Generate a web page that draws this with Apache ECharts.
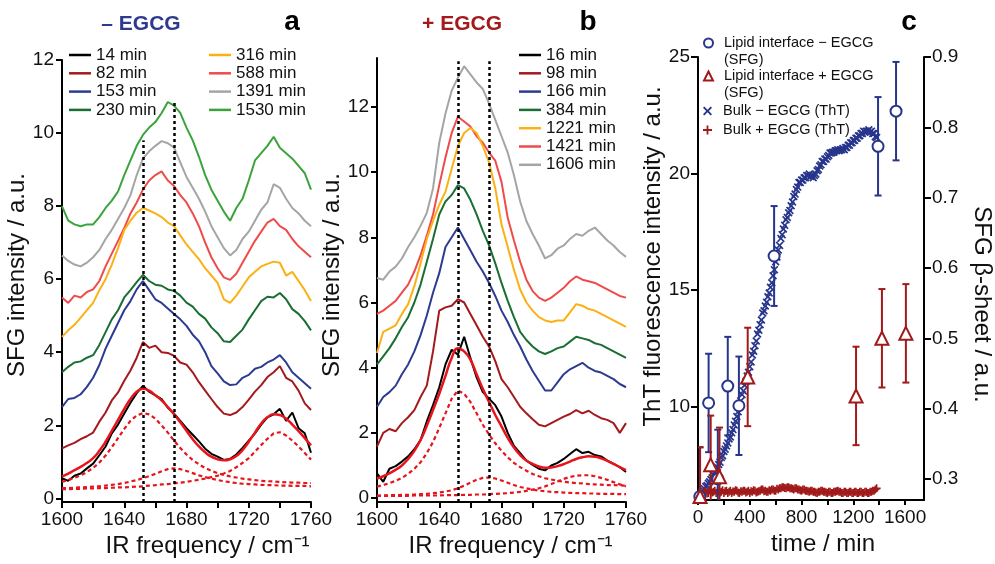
<!DOCTYPE html>
<html><head><meta charset="utf-8">
<script src="https://cdn.jsdelivr.net/npm/echarts@6/dist/echarts.min.js"></script>
<style>html,body{margin:0;padding:0;background:#fff}#c{width:995px;height:564px}</style>
</head><body><div id="c"></div>
<script>
// ---------- DATA ----------
const freq = [1600,1604,1608,1612,1616,1620,1624,1628,1632,1636,1640,1644,1648,1652,1656,1660,1664,1668,1672,1676,1680,1684,1688,1692,1696,1700,1704,1708,1712,1716,1720,1724,1728,1732,1736,1740,1744,1748,1752,1756,1760];
const freqTicks = [1600,1620,1640,1660,1680,1700,1720,1740,1760];
const freqLabels = [1600,1640,1680,1720,1760];
const sfgTicks = [0,2,4,6,8,10,12];

// Panel a (- EGCG)
const namesA = ['14 min','82 min','153 min','230 min','316 min','588 min','1391 min','1530 min'];
const a14 = [0.55,0.48,0.62,0.68,0.82,0.95,1.18,1.42,1.78,2.02,2.32,2.62,2.88,3.08,2.92,2.82,2.72,2.48,2.32,2.12,1.92,1.74,1.56,1.36,1.22,1.14,1.05,1.08,1.20,1.38,1.58,1.78,2.02,2.22,2.30,2.45,2.12,2.35,1.92,1.78,1.25];
const a82 = [1.37,1.45,1.52,1.62,1.70,1.80,2.10,2.35,2.68,2.90,3.22,3.50,3.85,4.28,4.12,4.18,4.00,3.98,3.90,3.72,3.66,3.45,3.18,2.95,2.72,2.50,2.32,2.28,2.35,2.50,2.70,2.92,3.10,3.32,3.45,3.62,3.30,3.20,2.95,2.60,2.42];
const a153 = [2.50,2.72,2.75,2.85,3.05,3.30,3.65,4.10,4.45,4.80,5.15,5.40,5.72,5.95,5.70,5.45,5.35,5.20,5.05,4.90,4.72,4.48,4.30,4.00,3.62,3.42,3.20,3.10,3.12,3.30,3.38,3.55,3.60,3.72,3.80,3.92,3.72,3.45,3.30,3.15,3.00];
const a230 = [3.45,3.60,3.72,3.75,3.85,3.92,4.20,4.55,4.90,5.15,5.50,5.70,5.92,6.12,5.95,5.85,5.82,5.72,5.68,5.55,5.36,5.25,5.05,4.92,4.68,4.52,4.30,4.28,4.45,4.62,4.90,5.15,5.40,5.52,5.50,5.62,5.45,5.18,5.05,4.85,4.60];
const a316 = [4.42,4.60,4.75,4.95,5.15,5.35,5.70,6.00,6.40,6.85,7.35,7.60,7.82,7.95,7.88,7.80,7.70,7.55,7.45,7.20,6.95,6.75,6.55,6.30,6.10,5.90,5.45,5.35,5.55,5.80,6.05,6.20,6.35,6.42,6.48,6.45,6.10,6.20,5.95,5.70,5.40];
const a588 = [5.50,5.35,5.55,5.50,5.65,5.72,5.95,6.35,6.70,7.05,7.40,7.80,8.10,8.45,8.70,8.85,8.95,8.70,8.55,8.30,8.10,7.80,7.45,7.00,6.60,6.30,6.05,5.98,6.15,6.45,6.75,7.05,7.30,7.55,7.65,7.45,7.35,7.10,6.90,6.75,6.60];
const a1391 = [6.65,6.50,6.40,6.35,6.45,6.60,6.80,7.10,7.35,7.65,7.95,8.30,8.85,9.30,9.50,9.65,9.78,9.72,9.60,9.20,8.80,8.50,8.20,7.85,7.45,7.15,6.85,6.65,6.80,7.10,7.30,7.60,7.90,8.10,8.60,8.50,8.20,7.95,7.80,7.60,7.45];
const a1530 = [8.00,7.60,7.50,7.45,7.50,7.50,7.70,7.95,8.15,8.40,8.85,9.25,9.65,9.95,10.15,10.30,10.55,10.85,10.75,10.55,10.15,9.80,9.35,8.85,8.45,8.15,7.85,7.60,7.95,8.20,8.70,9.25,9.45,9.65,9.90,9.60,9.45,9.30,9.10,8.90,8.45];
const fitA = [0.60,0.68,0.77,0.86,0.97,1.10,1.30,1.55,1.85,2.15,2.45,2.72,2.92,3.00,2.95,2.82,2.68,2.50,2.30,2.08,1.85,1.62,1.42,1.26,1.14,1.07,1.04,1.07,1.16,1.32,1.55,1.80,2.05,2.22,2.30,2.28,2.18,2.02,1.84,1.65,1.45];
const compA1 = [0.45,0.50,0.56,0.63,0.72,0.83,0.98,1.17,1.40,1.65,1.90,2.12,2.27,2.33,2.30,2.18,2.00,1.80,1.58,1.38,1.20,1.05,0.93,0.83,0.75,0.69,0.64,0.60,0.57,0.54,0.52,0.50,0.48,0.47,0.46,0.45,0.44,0.43,0.43,0.42,0.42];
const compA2 = [0.28,0.28,0.29,0.30,0.31,0.32,0.33,0.35,0.37,0.39,0.42,0.46,0.50,0.55,0.61,0.67,0.74,0.80,0.82,0.80,0.75,0.69,0.63,0.58,0.54,0.50,0.47,0.44,0.42,0.40,0.39,0.38,0.37,0.36,0.36,0.35,0.35,0.34,0.34,0.34,0.33];
const compA3 = [0.25,0.25,0.26,0.26,0.27,0.27,0.28,0.28,0.29,0.30,0.30,0.31,0.32,0.33,0.35,0.36,0.38,0.39,0.41,0.43,0.45,0.48,0.51,0.54,0.58,0.62,0.68,0.75,0.85,0.97,1.10,1.28,1.46,1.63,1.78,1.81,1.72,1.58,1.42,1.24,1.06];
const guidesA = [[1652,-0.1,9.8],[1672,-0.1,10.85]];

// Panel b (+ EGCG)
const namesB = ['16 min','98 min','166 min','384 min','1221 min','1421 min','1606 min'];
const b16 = [0.76,0.50,0.90,0.98,1.12,1.28,1.50,1.78,2.35,2.85,3.40,4.10,4.55,4.40,4.95,4.30,3.70,3.25,3.05,2.85,2.50,2.00,1.60,1.38,1.15,1.02,0.90,0.85,1.00,1.08,1.20,1.35,1.50,1.38,1.42,1.32,1.28,1.15,1.05,0.95,0.80];
const b98 = [1.58,2.00,2.12,2.05,2.30,2.48,2.70,3.10,3.45,4.50,5.75,5.85,5.90,6.10,6.00,5.65,5.30,4.95,4.65,4.20,3.65,3.40,3.10,2.80,2.60,2.42,2.25,2.20,2.30,2.40,2.50,2.58,2.70,2.60,2.68,2.55,2.45,2.40,2.30,2.00,2.30];
const b166 = [2.80,3.10,3.25,3.45,3.80,4.10,4.50,5.00,5.60,6.30,6.90,7.70,8.00,8.30,7.95,7.60,7.25,6.95,6.60,6.20,5.75,5.40,5.00,4.65,4.25,3.90,3.60,3.30,3.30,3.55,3.80,3.95,4.05,4.15,4.00,3.90,3.85,3.75,3.65,3.50,3.40];
const b384 = [4.10,4.35,4.60,4.90,5.25,5.55,6.00,6.55,7.25,7.95,8.70,9.10,9.30,9.60,9.50,9.15,8.70,8.20,7.75,7.20,6.60,6.05,5.55,5.10,4.85,4.65,4.50,4.42,4.50,4.60,4.65,4.80,4.95,4.90,4.85,4.75,4.70,4.60,4.50,4.40,4.30];
const b1221 = [4.45,5.10,5.20,5.30,5.65,5.95,6.50,7.20,7.95,8.50,9.00,9.40,10.10,10.80,11.20,11.35,11.20,10.80,10.30,9.50,8.40,7.70,7.00,6.40,6.00,5.75,5.55,5.45,5.40,5.45,5.45,5.70,5.95,5.90,5.80,5.75,5.65,5.55,5.45,5.35,5.25];
const b1421 = [5.65,5.75,5.90,6.05,6.30,6.55,6.95,7.45,8.05,8.70,9.60,10.45,11.20,11.70,11.55,11.40,11.10,10.90,10.60,10.35,9.70,8.60,7.90,7.25,6.70,6.35,6.15,6.05,6.15,6.30,6.45,6.65,6.80,6.70,6.65,6.60,6.50,6.40,6.30,6.20,6.15];
const b1606 = [6.75,6.70,6.95,7.10,7.35,7.70,8.00,8.35,8.75,9.50,10.90,11.80,12.50,12.90,13.25,13.00,12.75,12.55,12.10,11.60,11.10,10.60,9.90,9.10,8.50,8.10,7.75,7.35,7.45,7.65,7.75,7.95,8.10,8.05,8.20,8.30,8.10,7.90,7.75,7.55,7.40];
const fitB = [0.60,0.67,0.76,0.87,1.00,1.20,1.45,1.78,2.22,2.70,3.20,3.75,4.30,4.60,4.50,4.25,3.80,3.35,2.95,2.55,2.20,1.85,1.55,1.32,1.15,1.05,0.97,0.93,0.94,0.98,1.04,1.12,1.20,1.25,1.28,1.27,1.22,1.14,1.05,0.95,0.86];
const compB1 = [0.35,0.40,0.46,0.53,0.62,0.74,0.90,1.10,1.38,1.72,2.15,2.60,3.05,3.30,3.20,2.95,2.60,2.25,1.95,1.68,1.45,1.25,1.08,0.95,0.84,0.74,0.67,0.61,0.57,0.53,0.50,0.48,0.46,0.45,0.43,0.42,0.41,0.40,0.40,0.39,0.38];
const compB2 = [0.08,0.08,0.09,0.09,0.10,0.10,0.11,0.12,0.13,0.15,0.17,0.20,0.24,0.30,0.38,0.47,0.56,0.62,0.63,0.60,0.54,0.47,0.40,0.34,0.30,0.26,0.23,0.21,0.19,0.18,0.17,0.16,0.15,0.15,0.14,0.14,0.13,0.13,0.13,0.12,0.12];
const compB3 = [0.07,0.07,0.07,0.07,0.07,0.07,0.08,0.08,0.08,0.08,0.08,0.09,0.09,0.09,0.10,0.10,0.11,0.11,0.12,0.13,0.14,0.15,0.17,0.19,0.22,0.26,0.30,0.36,0.43,0.51,0.59,0.65,0.69,0.70,0.70,0.67,0.62,0.56,0.49,0.42,0.36];
const guidesB = [[1652,-0.12,13.4],[1672,-0.12,13.4]];

// Panel c
const thtTime = [0,10,20,30,40,50,60,70,80,90,100,110,120,130,140,150,160,170,180,190,200,210,220,230,240,250,260,270,280,290,300,310,320,330,340,350,360,370,380,390,400,410,420,430,440,450,460,470,480,490,500,510,520,530,540,550,560,570,580,590,600,610,620,630,640,650,660,670,680,690,700,710,720,730,740,750,760,770,780,790,800,810,820,830,840,850,860,870,880,890,900,910,920,930,940,950,960,970,980,990,1000,1010,1020,1030,1040,1050,1060,1070,1080,1090,1100,1110,1120,1130,1140,1150,1160,1170,1180,1190,1200,1210,1220,1230,1240,1250,1260,1270,1280,1290,1300,1310,1320,1330,1340,1350,1360,1370,1380];
const thtMinus = [6.10,6.18,6.22,6.35,6.42,6.48,6.58,6.62,6.72,6.78,6.88,6.95,7.08,7.18,7.32,7.40,7.52,7.62,7.82,7.90,8.08,8.18,8.32,8.45,8.62,8.70,8.88,9.02,9.22,9.38,9.58,9.78,10.02,10.25,10.52,10.68,10.92,11.08,11.32,11.48,11.72,11.92,12.22,12.38,12.62,12.82,13.12,13.28,13.52,13.72,14.02,14.12,14.32,14.48,14.72,14.88,15.12,15.32,15.62,15.88,16.22,16.42,16.72,16.92,17.22,17.38,17.62,17.78,18.02,18.12,18.32,18.42,18.62,18.78,19.02,19.12,19.32,19.42,19.62,19.62,19.72,19.72,19.82,19.82,19.92,19.92,19.98,19.88,19.92,19.82,19.92,19.98,20.12,20.18,20.32,20.38,20.52,20.52,20.62,20.62,20.72,20.78,20.88,20.88,20.92,20.92,20.98,20.98,21.02,20.98,21.02,21.02,21.08,21.02,21.12,21.12,21.22,21.22,21.32,21.32,21.42,21.42,21.52,21.52,21.62,21.62,21.72,21.72,21.82,21.78,21.82,21.82,21.88,21.78,21.82,21.72,21.72,21.58,21.55];
const thtPlus = [6.00,6.08,6.15,6.22,6.30,6.38,6.35,6.28,6.30,6.42,6.40,6.32,6.35,6.40,6.30,6.38,6.40,6.32,6.35,6.42,6.30,6.38,6.40,6.30,6.35,6.40,6.30,6.36,6.35,6.42,6.40,6.32,6.30,6.38,6.35,6.40,6.40,6.32,6.35,6.40,6.30,6.38,6.35,6.42,6.40,6.32,6.35,6.38,6.40,6.45,6.45,6.38,6.40,6.35,6.35,6.42,6.40,6.45,6.45,6.40,6.40,6.48,6.45,6.50,6.50,6.55,6.55,6.52,6.50,6.55,6.55,6.50,6.50,6.48,6.45,6.50,6.50,6.45,6.45,6.42,6.40,6.45,6.45,6.40,6.40,6.38,6.35,6.40,6.40,6.35,6.35,6.32,6.30,6.35,6.35,6.40,6.40,6.35,6.35,6.32,6.30,6.35,6.35,6.30,6.30,6.35,6.35,6.38,6.40,6.35,6.35,6.30,6.30,6.35,6.35,6.30,6.30,6.35,6.35,6.30,6.30,6.35,6.35,6.30,6.30,6.35,6.35,6.30,6.30,6.35,6.35,6.30,6.30,6.35,6.35,6.40,6.40,6.45,6.50];
const sfgMinusTime = [14,82,153,230,316,588,1391,1530];
const sfgMinus = [0.275,0.408,0.300,0.432,0.404,0.617,0.773,0.823];
const sfgMinusErr = [0.07,0.07,0.07,0.07,0.07,0.071,0.07,0.07];
const sfgPlusTime = [16,98,166,384,1221,1421,1606];
const sfgPlus = [0.275,0.320,0.303,0.445,0.418,0.500,0.507];
const sfgPlusErr = [0.07,0.07,0.07,0.07,0.07,0.07,0.07];
const timeTicks = [0,200,400,600,800,1000,1200,1400,1600];
const timeLabels = [0,400,800,1200,1600];
const thtLabels = [10,15,20,25];
const betaLabels = [0.3,0.4,0.5,0.6,0.7,0.8,0.9];

// ---------- STYLE ----------
const FONT = "'Liberation Sans', Arial, Helvetica, sans-serif";
const colA = ['#000000','#a3191c','#2c3b90','#1a6e33','#fbb014','#ef4b4b','#a5a5a5','#3ba33b'];
const colB = ['#000000','#a3191c','#2c3b90','#1a6e33','#fbb014','#ef4b4b','#a5a5a5'];
const FITRED = '#e8141b';
const NAVY = '#27358c', MAROON = '#a11a1a';
const N1 = 'Lipid interface \u2212 EGCG\n(SFG)', N2 = 'Lipid interface + EGCG\n(SFG)';
const N3 = 'Bulk \u2212 EGCG (ThT)', N4 = 'Bulk + EGCG (ThT)';
const XSYM = 'path://M0,1.5L1.5,0L5,3.5L8.5,0L10,1.5L6.5,5L10,8.5L8.5,10L5,6.5L1.5,10L0,8.5L3.5,5Z';
const PSYM = 'path://M4,0H6V4H10V6H6V10H4V6H0V4H4Z';

const pairs = (xs, ys) => xs.map((x, i) => [x, ys[i]]);
const plain = v => String(v);

function axis(o) {
  const base = {
    axisLine: {show: true, onZero: false, lineStyle: {color: '#000', width: 2}},
    axisTick: {show: true, inside: false, length: 6, lineStyle: {color: '#000', width: 2}},
    axisLabel: {color: '#111', fontSize: 19, fontFamily: FONT, margin: 8, formatter: plain},
    splitLine: {show: false},
    nameTextStyle: {color: '#111', fontSize: 24, fontFamily: FONT}
  };
  for (const k in o) {
    if (base[k] && typeof o[k] === 'object' && !Array.isArray(o[k])) base[k] = Object.assign({}, base[k], o[k]);
    else base[k] = o[k];
  }
  return base;
}

const series = [];
const dataA = [a14, a82, a153, a230, a316, a588, a1391, a1530];
for (let i = dataA.length - 1; i >= 0; i--) {
  series.push({type: 'line', name: namesA[i], xAxisIndex: 0, yAxisIndex: 0, data: pairs(freq, dataA[i]),
    showSymbol: false, symbol: 'none', color: colA[i], lineStyle: {width: 2}, z: 2});
}
[compA1, compA2, compA3].forEach((c, k) => series.push({type: 'line', name: 'compA' + k, xAxisIndex: 0, yAxisIndex: 0,
  data: pairs(freq, c), showSymbol: false, symbol: 'none', color: FITRED, lineStyle: {width: 2.2, type: [4, 3]}, z: 3}));
series.push({type: 'line', name: 'fitA', xAxisIndex: 0, yAxisIndex: 0, data: pairs(freq, fitA), showSymbol: false,
  symbol: 'none', smooth: true, color: FITRED, lineStyle: {width: 2.5}, z: 4,
  markLine: {silent: true, symbol: 'none', label: {show: false}, animation: false,
    lineStyle: {color: '#000', type: [3, 3], width: 2.5},
    data: guidesA.map(g => [{coord: [g[0], g[1]]}, {coord: [g[0], g[2]]}])}});

const dataB = [b16, b98, b166, b384, b1221, b1421, b1606];
for (let i = dataB.length - 1; i >= 0; i--) {
  series.push({type: 'line', name: namesB[i], xAxisIndex: 1, yAxisIndex: 1, data: pairs(freq, dataB[i]),
    showSymbol: false, symbol: 'none', color: colB[i], lineStyle: {width: 2}, z: 2});
}
[compB1, compB2, compB3].forEach((c, k) => series.push({type: 'line', name: 'compB' + k, xAxisIndex: 1, yAxisIndex: 1,
  data: pairs(freq, c), showSymbol: false, symbol: 'none', color: FITRED, lineStyle: {width: 2.2, type: [4, 3]}, z: 3}));
series.push({type: 'line', name: 'fitB', xAxisIndex: 1, yAxisIndex: 1, data: pairs(freq, fitB), showSymbol: false,
  symbol: 'none', smooth: true, color: FITRED, lineStyle: {width: 2.5}, z: 4,
  markLine: {silent: true, symbol: 'none', label: {show: false}, animation: false,
    lineStyle: {color: '#000', type: [3, 3], width: 2.5},
    data: guidesB.map(g => [{coord: [g[0], g[1]]}, {coord: [g[0], g[2]]}])}});

series.push({type: 'scatter', name: N3, xAxisIndex: 2, yAxisIndex: 2, data: pairs(thtTime, thtMinus),
  symbol: XSYM, symbolSize: 8, color: NAVY, itemStyle: {opacity: 1}, z: 2, large: false});
series.push({type: 'scatter', name: N4, xAxisIndex: 2, yAxisIndex: 2, data: pairs(thtTime, thtPlus),
  symbol: PSYM, symbolSize: 8, color: MAROON, itemStyle: {opacity: 1}, z: 2, large: false});

function renderErr(params, api) {
  const t = api.value(0), lo = api.value(2), hi = api.value(3);
  const top = api.coord([t, hi]), bot = api.coord([t, lo]);
  const w = 3.5;
  const st = {stroke: api.visual('color'), lineWidth: 2, fill: null};
  return {type: 'group', children: [
    {type: 'line', shape: {x1: top[0], y1: top[1], x2: bot[0], y2: bot[1]}, style: st},
    {type: 'line', shape: {x1: top[0] - w, y1: top[1], x2: top[0] + w, y2: top[1]}, style: st},
    {type: 'line', shape: {x1: bot[0] - w, y1: bot[1], x2: bot[0] + w, y2: bot[1]}, style: st}
  ]};
}
series.push({type: 'custom', name: 'errMinus', xAxisIndex: 2, yAxisIndex: 3, renderItem: renderErr, clip: true,
  color: NAVY, z: 4, encode: {x: 0, y: [1, 2, 3]},
  data: sfgMinusTime.map((t, i) => [t, sfgMinus[i], sfgMinus[i] - sfgMinusErr[i], sfgMinus[i] + sfgMinusErr[i]])});
series.push({type: 'custom', name: 'errPlus', xAxisIndex: 2, yAxisIndex: 3, renderItem: renderErr, clip: true,
  color: MAROON, z: 4, encode: {x: 0, y: [1, 2, 3]},
  data: sfgPlusTime.map((t, i) => [t, sfgPlus[i], sfgPlus[i] - sfgPlusErr[i], sfgPlus[i] + sfgPlusErr[i]])});
series.push({type: 'scatter', name: N1, xAxisIndex: 2, yAxisIndex: 3, data: pairs(sfgMinusTime, sfgMinus),
  symbol: 'emptyCircle', symbolSize: 11, color: NAVY, itemStyle: {borderWidth: 2, opacity: 1}, z: 5});
series.push({type: 'scatter', name: N2, xAxisIndex: 2, yAxisIndex: 3, data: pairs(sfgPlusTime, sfgPlus),
  symbol: 'emptyTriangle', symbolSize: 13, color: MAROON, itemStyle: {borderWidth: 2, opacity: 1}, z: 5});

const legText = {fontSize: 17, lineHeight: 18, color: '#111', fontFamily: FONT};
const lineLegend = (names, left, top) => ({
  data: names, left: left, top: top, orient: 'vertical', icon: 'rect', itemWidth: 22, itemHeight: 2.5,
  itemGap: 0.3, padding: 0, selectedMode: false, textStyle: legText
});
const cText = {fontSize: 14.5, lineHeight: 17, color: '#111', fontFamily: FONT, padding: [0, 0, 0, 6]};
// a blank first line keeps the marker level with the first line of a two-line label
const symLegend = (name, icon, top) => ({
  data: [{name: name, icon: icon}], left: 703, top: top, orient: 'vertical', itemWidth: 9, itemHeight: 9,
  padding: 0, selectedMode: false, itemStyle: {borderWidth: 2},
  formatter: n => (n.indexOf('\n') >= 0 ? ' \n' + n : n),
  textStyle: cText
});

const option = {
  animation: false,
  backgroundColor: '#fff',
  grid: [
    {left: 62, top: 60, width: 249, height: 442},
    {left: 377, top: 58, width: 249, height: 444},
    {left: 698, top: 57, width: 228, height: 443}
  ],
  xAxis: [
    axis({type: 'value', gridIndex: 0, min: 1600, max: 1760,
      axisTick: {customValues: freqTicks}, axisLabel: {customValues: freqLabels},
      name: 'IR frequency / cm\u207B\u00B9', nameLocation: 'middle', nameGap: 32,
      nameTextStyle: {padding: [0, 0, 0, 42]}}),
    axis({type: 'value', gridIndex: 1, min: 1600, max: 1760,
      axisTick: {customValues: freqTicks}, axisLabel: {customValues: freqLabels},
      name: 'IR frequency / cm\u207B\u00B9', nameLocation: 'middle', nameGap: 32,
      nameTextStyle: {padding: [0, 0, 0, 18]}}),
    axis({type: 'value', gridIndex: 2, min: 0, max: 1746,
      axisTick: {customValues: timeTicks, length: 5}, axisLabel: {customValues: timeLabels},
      name: 'time / min', nameLocation: 'middle', nameGap: 32,
      nameTextStyle: {padding: [0, 0, 0, 24]}})
  ],
  yAxis: [
    axis({type: 'value', gridIndex: 0, min: -0.1, max: 12,
      axisTick: {customValues: sfgTicks}, axisLabel: {customValues: sfgTicks},
      name: 'SFG intensity / a.u.', nameLocation: 'middle', nameGap: 28,
      nameTextStyle: {padding: [0, 0, 0, 12]}}),
    axis({type: 'value', gridIndex: 1, min: -0.12, max: 13.5,
      axisTick: {customValues: sfgTicks}, axisLabel: {customValues: sfgTicks},
      name: 'SFG intensity / a.u.', nameLocation: 'middle', nameGap: 26,
      nameTextStyle: {padding: [0, 0, 0, 10]}}),
    axis({type: 'value', gridIndex: 2, min: 6, max: 25, position: 'left',
      axisTick: {customValues: thtLabels, length: 7}, axisLabel: {customValues: thtLabels},
      name: 'ThT fluorescence intensity / a.u.', nameLocation: 'middle', nameGap: 26,
      nameTextStyle: {padding: [0, 0, 0, 44]}}),
    axis({type: 'value', gridIndex: 2, min: 0.27, max: 0.9, position: 'right',
      axisTick: {customValues: betaLabels, length: 7},
      axisLabel: {customValues: betaLabels, formatter: v => Number(v).toFixed(1)},
      name: 'SFG \u03B2-sheet / a.u.', nameLocation: 'middle', nameGap: 46, nameRotate: -90,
      nameTextStyle: {padding: [0, 0, 0, 52]}})
  ],
  legend: [
    lineLegend(namesA.slice(0, 4), 69, 46),
    lineLegend(namesA.slice(4), 209, 46),
    lineLegend(namesB, 519, 46),
    symLegend(N1, 'emptyCircle', 17.5),
    symLegend(N2, 'emptyTriangle', 50.5),
    symLegend(N3, XSYM, 102.5),
    symLegend(N4, PSYM, 121.5)
  ],
  graphic: [
    {type: 'text', x: 141, y: 24, style: {text: '\u2013 EGCG', fill: '#2e3a8f', font: 'bold 21px ' + FONT, textAlign: 'center', textVerticalAlign: 'middle'}},
    {type: 'text', x: 292, y: 22, style: {text: 'a', fill: '#000', font: 'bold 28px ' + FONT, textAlign: 'center', textVerticalAlign: 'middle'}},
    {type: 'text', x: 462, y: 24, style: {text: '+ EGCG', fill: '#a3191c', font: 'bold 21px ' + FONT, textAlign: 'center', textVerticalAlign: 'middle'}},
    {type: 'text', x: 588, y: 22, style: {text: 'b', fill: '#000', font: 'bold 28px ' + FONT, textAlign: 'center', textVerticalAlign: 'middle'}},
    {type: 'text', x: 909, y: 22, style: {text: 'c', fill: '#000', font: 'bold 28px ' + FONT, textAlign: 'center', textVerticalAlign: 'middle'}}
  ],
  series: series
};

const chart = echarts.init(document.getElementById('c'), null, {renderer: 'canvas'});
chart.setOption(option);
</script>
</body></html>
